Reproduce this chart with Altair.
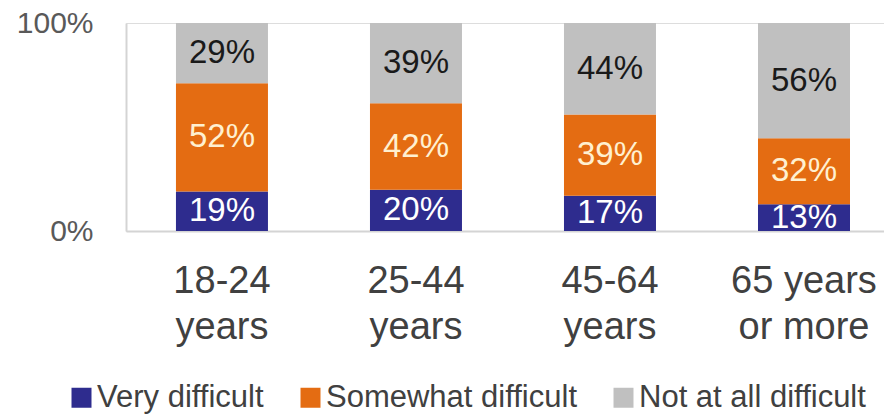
import altair as alt
import pandas as pd

ages = ["18-24 years", "25-44 years", "45-64 years", "65 years or more"]
age_lines = [["18-24", "years"], ["25-44", "years"], ["45-64", "years"], ["65 years", "or more"]]
levels = ["Very difficult", "Somewhat difficult", "Not at all difficult"]
very = [19, 20, 17, 13]
somewhat = [52, 42, 39, 32]
not_at_all = [29, 39, 44, 56]
colors = ["#2E2C8E", "#E46C12", "#C0C0C0"]
text_colors = ["#FFFFFF", "#FFF0D0", "#1A1A1A"]

rows = []
for i, a in enumerate(ages):
    for j, (lvl, vals) in enumerate(zip(levels, [very, somewhat, not_at_all])):
        rows.append({"age": a, "level": lvl, "order": j, "value": vals[i]})
df = pd.DataFrame(rows)

FONT = "Liberation Sans"

label_expr = " : ".join(
    [f"datum.label == '{a}' ? {lines!r}" for a, lines in zip(ages, age_lines)]
) + " : datum.label"

x_enc = alt.X(
    "age:N",
    sort=ages,
    title=None,
    scale=alt.Scale(paddingInner=0.526, paddingOuter=0.2165, align=0.595),
    axis=alt.Axis(
        labelAngle=0,
        labelFontSize=38,
        labelFont=FONT,
        labelColor="#404040",
        labelLineHeight=46,
        labelPadding=31,
        labelExpr=label_expr,
        ticks=False,
        domainColor="#D4D4D4",
        domainWidth=2,
        grid=False,
    ),
)

base = alt.Chart(df).transform_stack(
    stack="value",
    groupby=["age"],
    as_=["y0", "y1"],
    offset="normalize",
    sort=[alt.SortField("order", order="ascending")],
)

bars = base.mark_bar(size=92).encode(
    x=x_enc,
    y=alt.Y(
        "y0:Q",
        title=None,
        scale=alt.Scale(domain=[0, 1], nice=False),
        axis=alt.Axis(
            values=[0, 1],
            format="%",
            labelFontSize=30,
            labelFont=FONT,
            labelColor="#595959",
            labelPadding=33,
            labelFlush=False,
            ticks=False,
            grid=False,
            domainColor="#D4D4D4",
            domainWidth=2,
        ),
    ),
    y2="y1:Q",
    color=alt.Color(
        "level:N",
        scale=alt.Scale(domain=levels, range=colors),
        sort=levels,
        legend=alt.Legend(
            title=None,
            orient="none",
            direction="horizontal",
            legendX=-60,
            legendY=359,
            symbolType="square",
            symbolSize=400,
            symbolStrokeWidth=0,
            symbolOpacity=1,
            labelFontSize=31,
            labelFont=FONT,
            labelColor="#404040",
            labelOffset=0,
            labelLimit=400,
            columnPadding=31,
            padding=0,
        ),
    ),
)

labels = base.transform_calculate(
    mid="(datum.y0 + datum.y1) / 2",
    label="datum.value + '%'",
).mark_text(fontSize=33, font=FONT, baseline="middle", align="center").encode(
    x=alt.X("age:N", sort=ages),
    y=alt.Y("mid:Q"),
    text="label:N",
    color=alt.Color("level:N", scale=alt.Scale(domain=levels, range=text_colors), legend=None),
)

chart = (
    alt.layer(bars, labels)
    .resolve_scale(color="independent")
    .properties(
        width=758,
        height=208,
        autosize=alt.AutoSizeParams(type="none"),
        padding={"left": 118, "top": 15, "right": 0, "bottom": 183},
    )
    .configure_view(stroke=None)
    .configure(background="white")
)

chart.save("out.html", embed_options={"renderer": "svg", "actions": False})
